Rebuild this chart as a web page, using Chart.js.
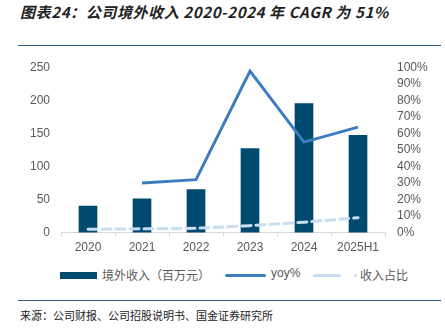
<!DOCTYPE html>
<html>
<head>
<meta charset="utf-8">
<script src="https://cdn.jsdelivr.net/npm/chart.js@4"></script>
<style>
  body { margin: 0; width: 445px; height: 332px; background: #fff; position: relative; overflow: hidden;
         font-family: "Liberation Sans", "Noto Sans CJK SC", sans-serif; }
  #title { position: absolute; left: 20px; top: 1px; font-family: "Noto Sans CJK SC", sans-serif;
           font-style: italic; font-weight: bold; font-size: 15px; color: #222; letter-spacing: 0.6px; }
  .rule { position: absolute; left: 18px; width: 423px; height: 1px; background: #2b5a87; }
  #box { position: absolute; left: 0; top: 48px; width: 445px; height: 211px; }
  #legend { position: absolute; top: 266px; left: 0; font-size: 12px; color: #595959; }
  .item { position: absolute; white-space: nowrap; }
  #source { position: absolute; left: 20px; top: 307px; font-size: 11px; color: #222;
            font-family: "Noto Sans CJK SC", sans-serif; }
</style>
</head>
<body>
<div id="title">图表24：公司境外收入 2020-2024 年 CAGR 为 51%</div>
<div class="rule" style="top:45px"></div>
<div id="box"><canvas id="chart"></canvas></div>
<div id="legend">
  <span class="item" style="left:60px;top:6px;width:37px;height:7px;background:#004a70"></span>
  <span class="item" style="left:102px;top:0">境外收入（百万元）</span>
  <span class="item" style="left:225px;top:8px;width:41px;height:3px;border-radius:2px;background:#3e7cc0"></span>
  <span class="item" style="left:271px;top:0">yoy%</span>
  <span class="item" style="left:313px;top:8px;width:28px;height:3px;border-radius:2px;background:#c9ddf0"></span>
  <span class="item" style="left:354px;top:8px;width:3px;height:3px;border-radius:2px;background:#c9ddf0"></span>
  <span class="item" style="left:360px;top:0">收入占比</span>
</div>
<div class="rule" style="top:300px"></div>
<div id="source">来源：公司财报、公司招股说明书、国金证券研究所</div>
<script>
const categories = ['2020', '2021', '2022', '2023', '2024', '2025H1'];
const overseasRevenue = [40, 51, 65, 127, 195, 147];
const yoy = [null, 0.30, 0.32, 0.976, 0.547, 0.638];
const revenueShare = [0.02, 0.023, 0.026, 0.042, 0.063, 0.09];
const leftTicks = [0, 50, 100, 150, 200, 250];

const tickColor = '#595959';
const tickFont = { family: 'Liberation Sans', size: 12 };

new Chart(document.getElementById('chart'), {
  data: {
    labels: categories,
    datasets: [
      {
        type: 'line', label: 'yoy%', data: yoy, yAxisID: 'y1',
        borderColor: '#3e7cc0', borderWidth: 3, pointRadius: 0, tension: 0, order: 1
      },
      {
        type: 'line', label: '收入占比', data: revenueShare, yAxisID: 'y1',
        borderColor: '#c9ddf0', borderWidth: 3, borderDash: [9, 5], borderCapStyle: 'round',
        pointRadius: 0, tension: 0, order: 2
      },
      {
        type: 'bar', label: '境外收入（百万元）', data: overseasRevenue, yAxisID: 'y',
        backgroundColor: '#004a70', barThickness: 18, order: 3
      }
    ]
  },
  options: {
    animation: false,
    responsive: true,
    maintainAspectRatio: false,
    layout: { padding: { top: 6, bottom: 0, left: 0, right: 0 } },
    plugins: { legend: { display: false }, tooltip: { enabled: false } },
    scales: {
      x: {
        offset: true,
        grid: { offset: true, drawOnChartArea: false, drawTicks: true, tickLength: 4, color: '#d9d9d9' },
        border: { color: '#d9d9d9' },
        ticks: { color: tickColor, font: tickFont, padding: 4, autoSkip: false, maxRotation: 0 }
      },
      y: {
        position: 'left', min: 0, max: 250,
        afterBuildTicks: axis => { axis.ticks = leftTicks.map(v => ({ value: v })); },
        afterFit: axis => { axis.width = 61; },
        grid: { display: false, drawTicks: false },
        border: { display: false },
        ticks: { color: tickColor, font: tickFont, padding: 11, autoSkip: false }
      },
      y1: {
        position: 'right', min: 0, max: 1,
        afterFit: axis => { axis.width = 60; },
        grid: { display: false, drawTicks: false },
        border: { display: false },
        ticks: { stepSize: 0.1, color: tickColor, font: tickFont, padding: 12, autoSkip: false,
                 callback: v => Math.round(v * 100) + '%' }
      }
    }
  }
});
</script>
</body>
</html>
